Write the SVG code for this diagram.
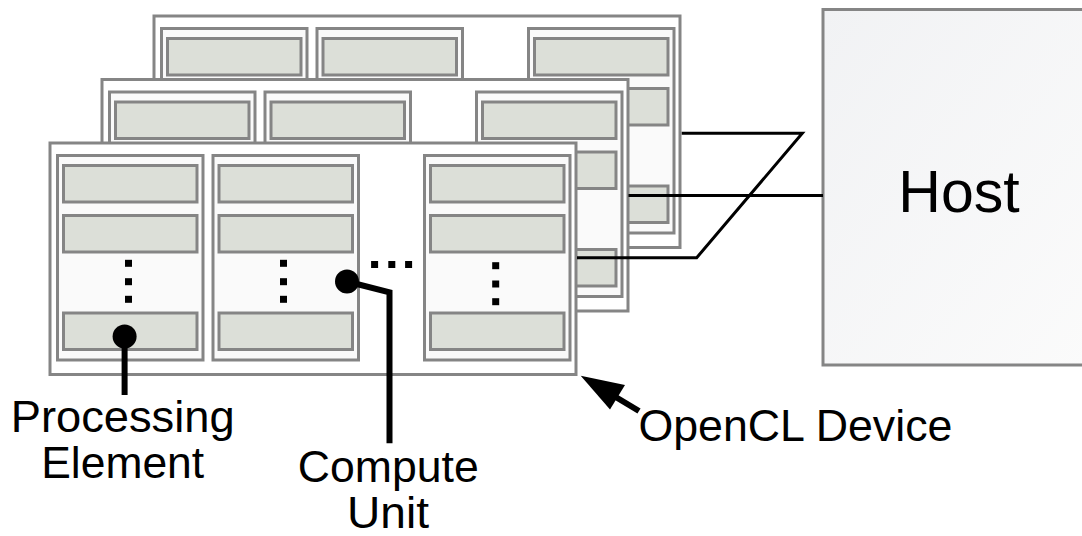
<svg xmlns="http://www.w3.org/2000/svg" xmlns:xlink="http://www.w3.org/1999/xlink" width="1082" height="536" viewBox="0 0 1082 536">
  <style>
    .dev { fill: #ffffff; stroke: #858585; stroke-width: 3; }
    .cu { fill: #fafafa; stroke: #858585; stroke-width: 3; }
    .pe { fill: #dcdfd8; stroke: #858585; stroke-width: 3; }
    .dot { fill: #000000; }
    .wire { fill: none; stroke: #000000; stroke-width: 3; }
    .lead { fill: none; stroke: #000000; stroke-width: 6; }
    .lbl { font-family: "Liberation Sans", Arial, sans-serif; font-size: 44px; fill: #000000; text-anchor: middle; }
    .host { fill: url(#hostFill); stroke: #858585; stroke-width: 3; }
  </style>
  <defs>
    <linearGradient id="hostFill" x1="0" y1="0" x2="1" y2="1">
      <stop offset="0" stop-color="#f1f2f4"/>
      <stop offset="1" stop-color="#fbfbfb"/>
    </linearGradient>
    <!-- one compute unit: frame plus three processing elements -->
    <g id="computeUnit">
      <rect class="cu" x="0" y="12.5" width="145.5" height="204.5"/>
      <rect class="pe" x="6" y="22.5" width="133.5" height="36.5"/>
      <rect class="pe" x="6" y="72.5" width="133.5" height="36.5"/>
      <rect class="pe" x="6" y="170" width="133.5" height="36.5"/>
    </g>
    <!-- one device board with three compute units -->
    <g id="deviceBoard">
      <rect class="dev" x="0" y="0" width="526" height="231.5"/>
      <use xlink:href="#computeUnit" x="7.5" y="0"/>
      <use xlink:href="#computeUnit" x="163" y="0"/>
      <use xlink:href="#computeUnit" x="374.5" y="0"/>
    </g>
  </defs>

  <!-- host -->
  <g id="host">
    <rect class="host" x="823" y="9.5" width="270" height="355.5"/>
    <text class="lbl" x="959" y="212.3" style="font-size:59px">Host</text>
  </g>

  <!-- stacked devices, back to front -->
  <g id="device-back" transform="translate(154,16)">
    <use xlink:href="#deviceBoard"/>
  </g>
  <g id="device-middle" transform="translate(102,79.5)">
    <use xlink:href="#deviceBoard"/>
  </g>
  <g id="device-front" transform="translate(50,143)">
    <use xlink:href="#deviceBoard"/>
    <!-- vertical ellipses inside each compute unit -->
    <rect class="dot" x="75" y="116.8" width="7" height="7"/>
    <rect class="dot" x="75" y="135.2" width="7" height="7"/>
    <rect class="dot" x="75" y="152.8" width="7" height="7"/>
    <rect class="dot" x="230" y="116.8" width="7" height="7"/>
    <rect class="dot" x="230" y="135.2" width="7" height="7"/>
    <rect class="dot" x="230" y="152.8" width="7" height="7"/>
    <rect class="dot" x="442.2" y="119.2" width="7" height="7"/>
    <rect class="dot" x="442.2" y="137.5" width="7" height="7"/>
    <rect class="dot" x="442.2" y="155.2" width="7" height="7"/>
    <!-- horizontal ellipsis between compute units -->
    <rect class="dot" x="321.1" y="118" width="7" height="7"/>
    <rect class="dot" x="338.3" y="118" width="7" height="7"/>
    <rect class="dot" x="355.1" y="118" width="7" height="7"/>
  </g>

  <!-- connectors -->
  <g id="connectors">
    <polyline class="wire" points="681.7,133.3 802.3,133.3 696.7,257.7 577,257.7"/>
    <line class="wire" x1="628.5" y1="195.5" x2="823" y2="195.5"/>

    <circle class="dot" cx="124.6" cy="336.5" r="12"/>
    <line class="lead" x1="124.6" y1="336.5" x2="124.6" y2="395"/>

    <circle class="dot" cx="347" cy="281.5" r="12"/>
    <polyline class="lead" points="347,281.5 389.5,292.3 389.5,443.3"/>

    <line class="lead" x1="639" y1="411" x2="614" y2="396"/>
    <polygon class="dot" points="580.7,375.7 625,385 610,409.5"/>
  </g>

  <!-- labels -->
  <g id="labels">
    <text class="lbl" x="122.7" y="431.7" textLength="224" lengthAdjust="spacingAndGlyphs">Processing</text>
    <text class="lbl" x="122.7" y="478.3" textLength="163" lengthAdjust="spacingAndGlyphs">Element</text>
    <text class="lbl" x="388.3" y="481.7" textLength="181" lengthAdjust="spacingAndGlyphs">Compute</text>
    <text class="lbl" x="388" y="528" textLength="82" lengthAdjust="spacingAndGlyphs">Unit</text>
    <text class="lbl" x="795.4" y="441" textLength="314" lengthAdjust="spacingAndGlyphs">OpenCL Device</text>
  </g>
</svg>
